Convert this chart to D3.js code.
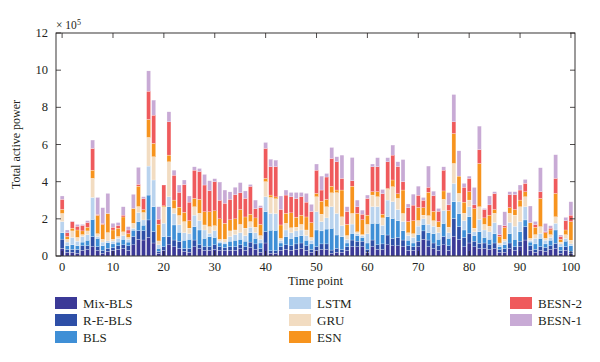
<!DOCTYPE html>
<html>
<head>
<meta charset="utf-8">
<script src="https://cdn.jsdelivr.net/npm/d3@7"></script>
<style>
  body { margin: 0; background: #fff; }
  text { font-family: "Liberation Serif", "DejaVu Serif", serif; fill: #231f20; }
</style>
</head>
<body>
<div id="chart"></div>
<script>
// series values, unit 1e5
var mixBLS = [0.41,0.2,0.2,0.15,0.3,0.35,0.5,0.3,0.15,0.25,
  0.3,0.35,0.4,0.3,0.6,0.9,0.86,1.0,0.7,0.15,
  0.3,0.6,0.5,0.4,0.25,0.2,0.5,0.4,0.3,0.3,
  0.35,0.3,0.3,0.3,0.3,0.4,0.3,0.45,0.35,0.2,
  0.7,0.15,0.15,0.3,0.35,0.3,0.35,0.4,0.3,0.2,
  0.3,0.35,0.35,0.15,0.2,0.2,0.3,0.5,0.5,0.5,
  0.2,0.5,0.35,0.35,0.6,0.55,0.55,0.5,0.3,0.3,
  0.5,0.9,0.5,0.4,0.3,0.6,0.3,1.04,0.88,0.5,
  0.7,0.5,0.4,0.4,0.35,0.4,0.2,0.2,0.4,0.3,
  0.5,0.86,0.3,0.2,0.3,0.25,0.35,0.4,0.15,0.3,
  0.15];
var reBLS = [0.5,0.15,0.15,0.2,0.25,0.2,0.54,0.2,0.15,0.16,
  0.15,0.2,0.2,0.25,0.44,0.46,0.5,0.94,0.61,0.1,
  0.2,0.44,0.36,0.38,0.15,0.2,0.36,0.2,0.2,0.2,
  0.25,0.2,0.15,0.2,0.2,0.2,0.2,0.3,0.3,0.2,
  0.61,0.13,0.13,0.2,0.25,0.25,0.3,0.3,0.25,0.15,
  0.2,0.3,0.3,0.17,0.21,0.15,0.2,0.36,0.3,0.3,
  0.15,0.36,0.25,0.3,0.53,0.4,0.45,0.36,0.25,0.2,
  0.3,0.45,0.36,0.3,0.25,0.45,0.25,0.98,0.7,0.5,
  0.52,0.3,0.28,0.3,0.25,0.3,0.15,0.2,0.3,0.2,
  0.3,0.72,0.25,0.15,0.2,0.2,0.2,0.28,0.15,0.2,
  0.1];
var bls = [0.34,0.2,0.25,0.2,0.2,0.3,0.93,0.45,0.25,0.3,
  0.2,0.2,0.3,0.2,0.35,0.5,0.3,1.34,1.34,0.16,
  0.54,1.61,0.81,0.5,0.45,0.5,0.72,0.8,0.45,0.54,
  0.4,0.2,0.2,0.3,0.35,0.3,0.3,0.5,0.3,0.3,
  1.07,1.11,1.1,0.2,0.45,0.4,0.4,0.4,0.3,0.3,
  0.9,0.7,0.8,1.17,0.72,0.69,0.2,0.36,0.3,0.2,
  0.35,0.9,1.16,0.5,0.98,1.07,0.9,0.5,0.3,0.2,
  0.36,0.35,0.4,0.5,0.35,0.7,0.4,0.9,0.71,0.4,
  0.89,0.3,0.63,0.3,0.3,0.5,0.15,0.2,0.5,0.4,
  0.5,0.36,0.2,0.3,0.45,0.2,0.3,0.72,0.2,0.3,
  0.3];
var lstm = [0.6,0.2,0.4,0.25,0.3,0.3,1.18,0.1,0.2,0.1,
  0.15,0.2,0.2,0.15,0.1,0.48,0.28,1.56,1.44,0.2,
  0.72,0.54,0.62,0.4,0.4,0.3,0.62,0.5,0.45,0.18,
  0.36,0.1,0.1,0.25,0.3,0.35,0.3,0.3,0.3,0.2,
  0.81,0.9,0.9,0.15,0.35,0.3,0.3,0.3,0.25,0.2,
  0.98,0.5,0.6,1.16,1.16,0.6,0.2,0.5,0.1,0.1,
  0.5,0.89,0.89,0.5,0.9,0.9,0.6,0.5,0.25,0.3,
  0.45,0.3,0.45,0.4,0.35,0.7,0.3,0.99,0.63,0.5,
  0.54,0.2,0.66,0.4,0.4,0.6,0.1,0.2,0.6,0.7,
  0.55,0.71,0.1,0.3,0.27,0.2,0.15,0.36,0.15,0.15,
  0.1];
var gru = [0.44,0.15,0.35,0.2,0.1,0.2,1.03,0.15,0.15,0.45,
  0.1,0.1,0.2,0.1,0.27,0.32,0.4,1.54,1.25,0.2,
  0.89,1.88,0.27,0.5,0.6,0.3,0.45,0.4,0.27,0.36,
  0.27,0.1,0.15,0.3,0.25,0.45,0.4,0.3,0.3,0.2,
  0.81,0.86,0.8,0.1,0.36,0.27,0.2,0.3,0.3,0.15,
  0.81,0.4,0.6,0.75,1.12,0.47,0.2,0.57,0.1,0.05,
  0.5,0.63,0.54,0.4,0.58,0.81,0.6,0.43,0.15,0.2,
  0.3,0.2,0.46,0.3,0.3,0.6,0.3,1.07,0.45,0.4,
  0.36,0.2,0.68,0.3,0.3,0.5,0.1,0.1,0.5,0.6,
  0.8,0.54,0.1,0.2,0.36,0.1,0.15,0.35,0.1,0.2,
  0.2];
var esn = [0.22,0.15,0.15,0.4,0.2,0.2,0.44,0.99,0.8,1.03,
  0.5,0.45,0.8,0.2,0.8,1.1,0.15,0.97,0.72,0.9,
  0.05,0.36,0.45,0.45,0.5,0.4,0.45,0.75,0.71,0.8,
  0.8,1.1,0.86,0.6,0.6,0.8,0.6,0.4,0.5,0.6,
  0.18,0.13,0.1,0.72,0.54,0.8,0.54,0.5,0.7,0.8,
  0.18,0.7,0.4,0.36,0.14,1.44,0.6,1.47,0.99,0.8,
  0.5,0.18,0.27,0.2,0.05,0.36,0.25,1.26,0.6,0.7,
  0.7,0.4,1.26,0.5,0.3,0.45,0.9,1.61,0.93,0.6,
  0.45,1.05,2.33,0.35,0.6,0.2,0.35,0.63,0.3,0.3,
  0.36,0.27,0.85,0.4,1.52,0.3,0.25,1.26,0.15,0.25,
  1.0];
var besn2 = [0.54,0.2,0.35,0.2,0.3,0.25,1.17,0.05,0.05,0,
  0.15,0.15,0.1,0.2,0,0.1,0.6,1.52,1.52,0.27,
  1.12,1.79,1.34,0.8,1.5,1.0,1.52,1.5,1.44,1.13,
  1.57,1.0,1.08,1.1,1.3,0.9,1.0,1.5,0.5,0.9,
  1.61,1.52,1.63,0.84,0.98,0.87,1.0,1.0,0.8,0.6,
  1.25,0.6,1.2,1.49,1.52,0.63,0.7,0.29,0.36,0.3,
  0.9,1.34,1.34,1.1,1.43,1.34,1.47,0.45,0.75,0.84,
  0.66,0.4,0.27,0.85,0.56,1.12,0.3,0.63,0,0.8,
  0.72,0.2,0.75,0.45,0.55,0.86,0.1,0.1,0.7,0.8,
  0.54,0.45,0,0.15,0.36,0.05,0.1,0.81,0.15,0.5,
  0.35];
var besn1 = [0.18,0.15,0.02,0.1,0.05,0.1,0.45,0.91,0.85,1.08,
  0.21,0.15,0.45,0.18,0.76,0.91,0.1,1.09,0.81,0.67,
  0,0.54,0.27,0.39,0.24,0.33,0.18,0.16,0.57,0.54,
  0.16,0.98,0.71,0.4,0.4,0.55,0.4,0.1,0.46,0.11,
  0.32,0.41,0.35,0.72,0.27,0.23,0.33,0.22,0.47,0.38,
  0.33,0.75,0.19,0.59,0.27,1.25,0.25,1.25,0.36,0.22,
  0.18,0.15,0.49,0.23,0.22,0.54,0.25,1.19,0.2,0.59,
  0.49,0.15,1.14,0.24,0.15,0.18,0.66,1.47,1.36,0.21,
  0.12,0.94,1.26,0.06,0.48,0.1,0.52,0.75,0.16,0.16,
  0.27,0.21,0.89,0.16,1.29,0.45,0.13,1.27,0.08,0.18,
  0.72];

var names = ["Mix-BLS","R-E-BLS","BLS","LSTM","GRU","ESN","BESN-2","BESN-1"];
var colors = ["#3b3997","#2e4fa7","#3f8fd6","#b9d3ee","#f2dcc1","#f7941e","#ef5a5c","#c8aad5"];
var xTicks = [0,10,20,30,40,50,60,70,80,90,100];
var yTicks = [0,2,4,6,8,10,12];

var series = [mixBLS, reBLS, bls, lstm, gru, esn, besn2, besn1];

var rows = mixBLS.map(function (v, i) {
  var r = { t: i };
  names.forEach(function (n, k) { r[n] = series[k][i]; });
  return r;
});

var W = 600, H = 362;
var L = 56, R = 575, T = 33, B = 256;

var svg = d3.select("#chart").append("svg")
  .attr("width", W).attr("height", H);

var x = d3.scaleLinear().domain([-1.2, 100.8]).range([L, R]);
var y = d3.scaleLinear().domain([0, 12]).range([B, T]);
var bw = (x(1) - x(0)) * 0.78;

var stacked = d3.stack().keys(names)(rows);

svg.append("g")
  .selectAll("g")
  .data(stacked)
  .enter().append("g")
  .attr("fill", function (d, i) { return colors[i]; })
  .selectAll("rect")
  .data(function (d) { return d; })
  .enter().append("rect")
  .attr("x", function (d) { return x(d.data.t) - bw / 2; })
  .attr("width", bw)
  .attr("y", function (d) { return y(d[1]); })
  .attr("height", function (d) { return Math.max(0, y(d[0]) - y(d[1])); })
  .attr("stroke", "#fff")
  .attr("stroke-width", 0.25);

// frame
svg.append("rect")
  .attr("x", L).attr("y", T)
  .attr("width", R - L).attr("height", B - T)
  .attr("fill", "none").attr("stroke", "#231f20").attr("stroke-width", 0.9);

var tk = 5;
// ticks point inward on all four sides
xTicks.forEach(function (v) {
  svg.append("line").attr("x1", x(v)).attr("x2", x(v)).attr("y1", B).attr("y2", B - tk)
    .attr("stroke", "#231f20").attr("stroke-width", 0.8);
  svg.append("line").attr("x1", x(v)).attr("x2", x(v)).attr("y1", T).attr("y2", T + tk)
    .attr("stroke", "#231f20").attr("stroke-width", 0.8);
  svg.append("text").attr("x", x(v)).attr("y", 270.5)
    .attr("text-anchor", "middle").style("font-size", "12.5px").text(v);
});
yTicks.forEach(function (v) {
  svg.append("line").attr("x1", L).attr("x2", L + tk).attr("y1", y(v)).attr("y2", y(v))
    .attr("stroke", "#231f20").attr("stroke-width", 0.8);
  svg.append("line").attr("x1", R).attr("x2", R - tk).attr("y1", y(v)).attr("y2", y(v))
    .attr("stroke", "#231f20").attr("stroke-width", 0.8);
  svg.append("text").attr("x", 48).attr("y", y(v) + 4)
    .attr("text-anchor", "end").style("font-size", "12.5px").text(v);
});

// exponent
var ex = svg.append("text").attr("x", 56).attr("y", 29).style("font-size", "11.5px");
ex.append("tspan").text("\u00d7 10");
ex.append("tspan").attr("dy", -4).style("font-size", "8px").text("5");

svg.append("text")
  .attr("transform", "translate(20," + ((T + B) / 2) + ") rotate(-90)")
  .attr("text-anchor", "middle").style("font-size", "12px")
  .text("Total active power");

svg.append("text").attr("x", (L + R) / 2).attr("y", 285)
  .attr("text-anchor", "middle").style("font-size", "12.5px").text("Time point");

// legend
var colX = [55, 289, 510];
var rowY = [303, 320, 337];
var layout = [[0,0],[0,1],[0,2],[1,0],[1,1],[1,2],[2,0],[2,1]];
names.forEach(function (n, i) {
  var cx = colX[layout[i][0]], cy = rowY[layout[i][1]];
  svg.append("rect").attr("x", cx).attr("y", cy - 6)
    .attr("width", 22).attr("height", 12).attr("fill", colors[i]);
  svg.append("text").attr("x", cx + 28).attr("y", cy + 4.5)
    .style("font-size", "13px").text(n);
});
</script>
</body>
</html>
